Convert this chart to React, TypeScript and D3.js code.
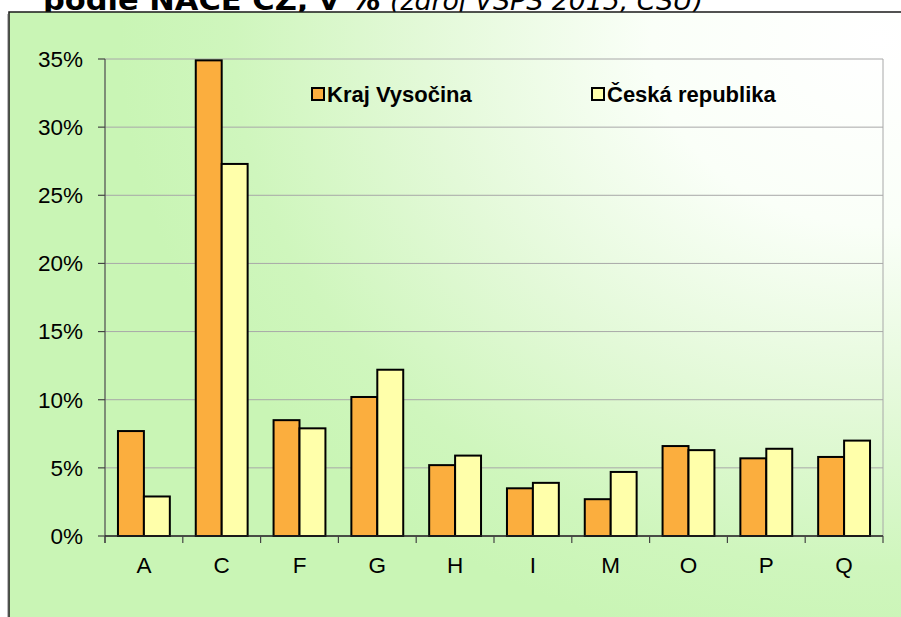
import * as d3 from 'd3';

const categories = ['A', 'C', 'F', 'G', 'H', 'I', 'M', 'O', 'P', 'Q'];
const seriesNames = ['Kraj Vysočina', 'Česká republika'];
const krajVysocina = [7.7, 34.9, 8.5, 10.2, 5.2, 3.5, 2.7, 6.6, 5.7, 5.8];
const ceskaRepublika = [2.9, 27.3, 7.9, 12.2, 5.9, 3.9, 4.7, 6.3, 6.4, 7.0];
const yTicks = [0, 5, 10, 15, 20, 25, 30, 35];
const seriesColors = ['#FBAE3E', '#FFFFAA'];

const W = 901;
const H = 617;
const plot = { left: 105, right: 883, top: 59, bottom: 536 };

const App = () => {
  const y = d3.scaleLinear().domain([0, 35]).range([plot.bottom, plot.top]);
  const x0 = d3.scaleBand().domain(categories).range([plot.left, plot.right]).padding(0);
  const x1 = d3
    .scaleBand()
    .domain(seriesNames)
    .range([0, x0.bandwidth()])
    .paddingInner(0)
    .paddingOuter(0.5);
  const series = [krajVysocina, ceskaRepublika];
  const fmt = (v: number) => `${v}%`;
  const label = 'Liberation Sans, Arial, sans-serif';

  return (
    <svg width={W} height={H} style={{ position: 'absolute', left: 0, top: 0 }}>
      <defs>
        <radialGradient
          id="bg"
          gradientUnits="userSpaceOnUse"
          cx={0}
          cy={0}
          r={1}
          gradientTransform="translate(880,40) scale(760,620)"
        >
          <stop offset="0" stopColor="#ffffff" />
          <stop offset="0.3" stopColor="#fafff8" />
          <stop offset="0.6" stopColor="#e3f9d8" />
          <stop offset="0.85" stopColor="#cff6bd" />
          <stop offset="1" stopColor="#c9f5b5" />
        </radialGradient>
      </defs>
      <rect x={0} y={0} width={W} height={H} fill="#ffffff" />

      {/* заголовок, рамка перекрывает его низ */}
      <text y={10} fill="#000" fontFamily="DejaVu Sans, Verdana, sans-serif">
        <tspan x={43} fontWeight="bold" fontSize={29} textLength={337} lengthAdjust="spacingAndGlyphs">
          podle NACE CZ, v %
        </tspan>
        <tspan x={390} fontStyle="italic" fontSize={27} textLength={313} lengthAdjust="spacingAndGlyphs">
          (zdroj VŠPS 2015, ČSÚ)
        </tspan>
      </text>

      {/* рамка области диаграммы */}
      <rect x={9} y={12} width={W} height={H} fill="url(#bg)" stroke="#1a1a1a" strokeWidth={1.5} />
      <line x1={7.5} x2={7.5} y1={14} y2={H} stroke="#bbb" strokeWidth={1} />

      {/* сетка */}
      {yTicks.map((t) => (
        <line key={t} x1={plot.left} x2={plot.right} y1={y(t)} y2={y(t)} stroke="#a8a8a8" strokeWidth={1} />
      ))}
      <line x1={plot.right} x2={plot.right} y1={plot.top} y2={plot.bottom} stroke="#a8a8a8" strokeWidth={1} />

      {/* столбцы */}
      {categories.map((c, i) => (
        <g key={c} transform={`translate(${x0(c)},0)`}>
          {seriesNames.map((s, j) => (
            <rect
              key={s}
              x={x1(s)}
              y={y(series[j][i])}
              width={x1.bandwidth()}
              height={y(0) - y(series[j][i])}
              fill={seriesColors[j]}
              stroke="#000"
              strokeWidth={2}
            />
          ))}
        </g>
      ))}

      {/* оси */}
      <line x1={plot.left} x2={plot.left} y1={plot.top} y2={plot.bottom + 7} stroke="#555" strokeWidth={1.3} />
      <line x1={plot.left} x2={plot.right} y1={plot.bottom} y2={plot.bottom} stroke="#222" strokeWidth={1.3} />
      {yTicks.map((t) => (
        <g key={t}>
          <line x1={plot.left - 7} x2={plot.left} y1={y(t)} y2={y(t)} stroke="#444" strokeWidth={1.2} />
          <text x={83} y={y(t)} dy="0.35em" textAnchor="end" fontFamily={label} fontSize={22.5} fill="#000">
            {fmt(t)}
          </text>
        </g>
      ))}
      {[...categories.map((c) => x0(c)!), plot.right].map((px, i) => (
        <line key={i} x1={px} x2={px} y1={plot.bottom} y2={plot.bottom + 7} stroke="#444" strokeWidth={1.2} />
      ))}
      {categories.map((c) => (
        <text
          key={c}
          x={x0(c)! + x0.bandwidth() / 2}
          y={573}
          textAnchor="middle"
          fontFamily={label}
          fontSize={22.5}
          fill="#000"
        >
          {c}
        </text>
      ))}

      {/* легенда */}
      {seriesNames.map((s, j) => {
        const lx = j === 0 ? 312 : 592;
        return (
          <g key={s}>
            <rect x={lx} y={88} width={12} height={12} fill={seriesColors[j]} stroke="#000" strokeWidth={2} />
            <text x={lx + 15} y={102} fontFamily={label} fontWeight="bold" fontSize={22} fill="#000">
              {s}
            </text>
          </g>
        );
      })}
    </svg>
  );
};

export default App;
